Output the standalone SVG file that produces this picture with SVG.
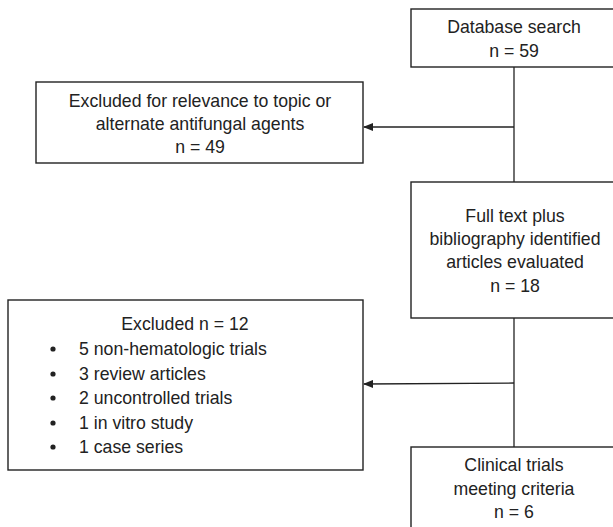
<svg xmlns="http://www.w3.org/2000/svg" width="613" height="527" viewBox="0 0 613 527">
<style>
.box{fill:#fff;stroke:#222;stroke-width:1.4}
.t{font-family:"Liberation Sans",Arial,sans-serif;font-size:17.7px;fill:#222}
.c{text-anchor:middle}
.ln{stroke:#222;stroke-width:1.3;fill:none}
</style>
<defs>
<marker id="ah" markerWidth="10" markerHeight="8" refX="9" refY="4" orient="auto" markerUnits="userSpaceOnUse">
<path d="M0,0 L10,4 L0,8 Z" fill="#222"/>
</marker>
</defs>
<rect width="613" height="527" fill="#fff"/>
<g id="connectors">
<line class="ln" x1="514" y1="67" x2="514" y2="182"/>
<line class="ln" x1="514" y1="127" x2="364" y2="127" marker-end="url(#ah)"/>
<line class="ln" x1="514" y1="318" x2="514" y2="447"/>
<line class="ln" x1="514" y1="383" x2="364" y2="384" marker-end="url(#ah)"/>
</g>
<g id="n1">
<rect class="box" x="411" y="9" width="210" height="58"/>
<text class="t c" x="514" y="33">Database search</text>
<text class="t c" x="514" y="57">n = 59</text>
</g>
<g id="n2">
<rect class="box" x="36" y="82" width="327" height="81"/>
<text class="t c" x="200" y="107">Excluded for relevance to topic or</text>
<text class="t c" x="200" y="130">alternate antifungal agents</text>
<text class="t c" x="200" y="153">n = 49</text>
</g>
<g id="n3">
<rect class="box" x="411" y="182" width="210" height="136"/>
<text class="t c" x="515" y="222">Full text plus</text>
<text class="t c" x="515" y="245">bibliography identified</text>
<text class="t c" x="515" y="268">articles evaluated</text>
<text class="t c" x="515" y="292">n = 18</text>
</g>
<g id="n4">
<rect class="box" x="8" y="300" width="355" height="170"/>
<text class="t c" x="185" y="330">Excluded n = 12</text>
<g fill="#222">
<circle cx="53" cy="349" r="2.6"/>
<circle cx="53" cy="374" r="2.6"/>
<circle cx="53" cy="398" r="2.6"/>
<circle cx="53" cy="423" r="2.6"/>
<circle cx="53" cy="447" r="2.6"/>
</g>
<text class="t" x="79" y="355">5 non-hematologic trials</text>
<text class="t" x="79" y="380">3 review articles</text>
<text class="t" x="79" y="404">2 uncontrolled trials</text>
<text class="t" x="79" y="429">1 in vitro study</text>
<text class="t" x="79" y="453">1 case series</text>
</g>
<g id="n5">
<rect class="box" x="411" y="447" width="210" height="90"/>
<text class="t c" x="514" y="471">Clinical trials</text>
<text class="t c" x="514" y="495">meeting criteria</text>
<text class="t c" x="514" y="518">n = 6</text>
</g>
</svg>
